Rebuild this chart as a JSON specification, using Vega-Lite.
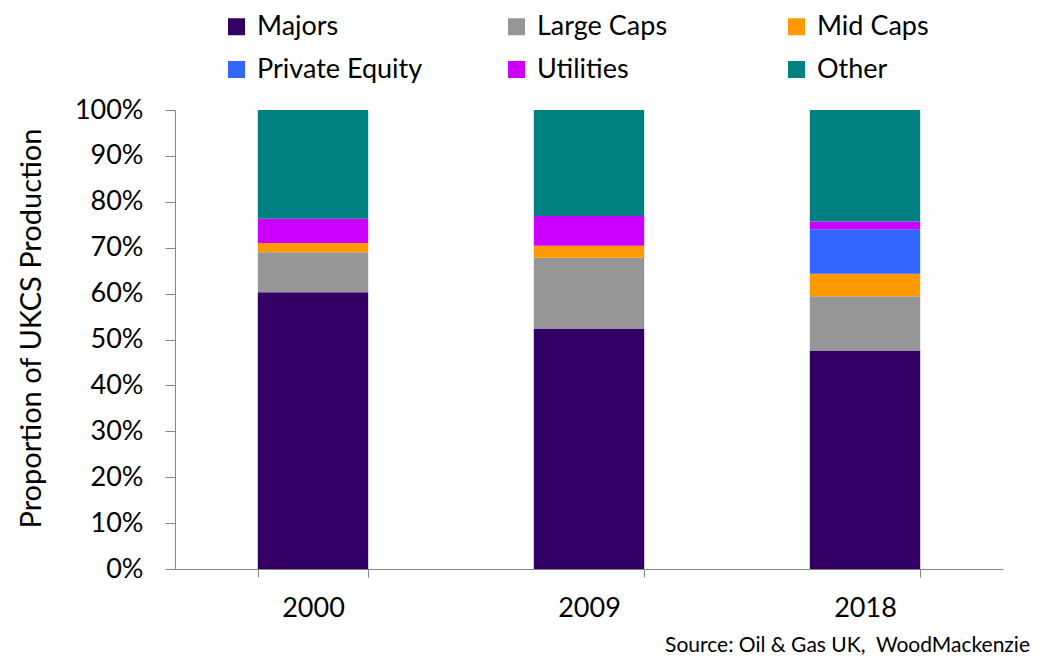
{
  "$schema": "https://vega.github.io/schema/vega-lite/v6.json",
  "width": 828,
  "height": 459,
  "autosize": {"type": "none"},
  "padding": {"left": 175, "top": 110, "right": 45, "bottom": 91},
  "background": "white",
  "config": {
    "font": "Lato",
    "view": {"stroke": null}
  },
  "title": {
    "text": "Source: Oil & Gas UK,\u00a0 WoodMackenzie",
    "orient": "bottom",
    "anchor": "end",
    "fontSize": 21,
    "fontWeight": "normal",
    "font": "Lato",
    "color": "black",
    "offset": 14,
    "dx": 27
  },
  "data": {
    "values": [
      {"year": "2000", "group": "Majors", "o": 1, "share": 60.3},
      {"year": "2000", "group": "Large Caps", "o": 2, "share": 8.7},
      {"year": "2000", "group": "Mid Caps", "o": 3, "share": 2.0},
      {"year": "2000", "group": "Private Equity", "o": 4, "share": 0.0},
      {"year": "2000", "group": "Utilities", "o": 5, "share": 5.3},
      {"year": "2000", "group": "Other", "o": 6, "share": 23.7},
      {"year": "2009", "group": "Majors", "o": 1, "share": 52.4},
      {"year": "2009", "group": "Large Caps", "o": 2, "share": 15.4},
      {"year": "2009", "group": "Mid Caps", "o": 3, "share": 2.6},
      {"year": "2009", "group": "Private Equity", "o": 4, "share": 0.0},
      {"year": "2009", "group": "Utilities", "o": 5, "share": 6.5},
      {"year": "2009", "group": "Other", "o": 6, "share": 23.1},
      {"year": "2018", "group": "Majors", "o": 1, "share": 47.6},
      {"year": "2018", "group": "Large Caps", "o": 2, "share": 11.8},
      {"year": "2018", "group": "Mid Caps", "o": 3, "share": 4.9},
      {"year": "2018", "group": "Private Equity", "o": 4, "share": 9.7},
      {"year": "2018", "group": "Utilities", "o": 5, "share": 1.7},
      {"year": "2018", "group": "Other", "o": 6, "share": 24.3}
    ]
  },
  "mark": {"type": "bar"},
  "encoding": {
    "x": {
      "field": "year",
      "type": "nominal",
      "scale": {"paddingInner": 0.6, "paddingOuter": 0.3},
      "axis": {
        "title": null,
        "labelAngle": 0,
        "labelFontSize": 27,
        "labelColor": "black",
        "labelPadding": 18,
        "tickBand": "extent",
        "tickSize": 8,
        "tickColor": "#868686",
        "domainColor": "#868686",
        "tickWidth": 1,
        "domainWidth": 1
      }
    },
    "y": {
      "field": "share",
      "type": "quantitative",
      "stack": "zero",
      "scale": {"domain": [0, 100], "nice": false},
      "axis": {
        "title": "Proportion of UKCS Production",
        "titleFontSize": 29,
        "titleFontWeight": "normal",
        "titleColor": "black",
        "titlePadding": 28,
        "titleY": 218,
        "values": [0, 10, 20, 30, 40, 50, 60, 70, 80, 90, 100],
        "labelExpr": "datum.value + '%'",
        "labelFontSize": 27,
        "labelColor": "black",
        "labelPadding": 22,
        "tickSize": 10,
        "tickColor": "#868686",
        "domainColor": "#868686",
        "grid": false
      }
    },
    "order": {"field": "o", "type": "quantitative", "sort": "ascending"},
    "color": {
      "field": "group",
      "type": "nominal",
      "scale": {
        "domain": ["Majors", "Large Caps", "Mid Caps", "Private Equity", "Utilities", "Other"],
        "range": ["#330066", "#969696", "#FF9900", "#3366FF", "#CC00FF", "#008080"]
      },
      "legend": {
        "title": null,
        "orient": "none",
        "direction": "horizontal",
        "legendX": 48,
        "legendY": -97,
        "columns": 3,
        "gridAlign": "all",
        "columnPadding": 80,
        "rowPadding": 15,
        "padding": 0,
        "symbolType": "square",
        "symbolSize": 289,
        "symbolStrokeWidth": 0,
        "symbolOpacity": 1,
        "labelFontSize": 27,
        "labelColor": "black",
        "labelOffset": 7,
        "labelLimit": 400
      }
    }
  }
}
